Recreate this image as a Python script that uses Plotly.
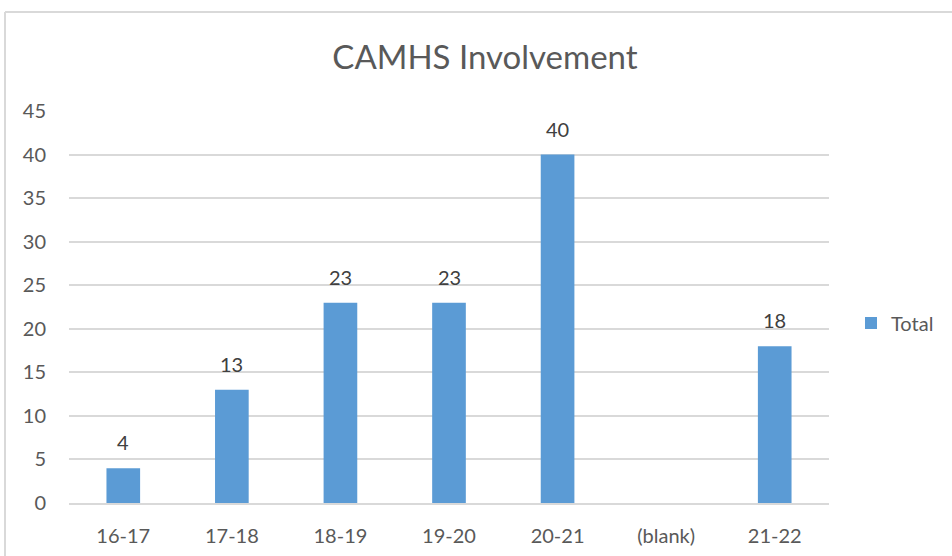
import plotly.graph_objects as go

categories = ["16-17", "17-18", "18-19", "19-20", "20-21", "(blank)", "21-22"]
values = [4, 13, 23, 23, 40, None, 18]
labels = ["4", "13", "23", "23", "40", "", "18"]
y_ticks = [0, 5, 10, 15, 20, 25, 30, 35, 40, 45]

FONT = "Lato, 'Open Sans', 'Liberation Sans', sans-serif"
TXT = "#595959"
GRID = "#D9D9D9"

fig = go.Figure()
fig.add_trace(go.Bar(
    x=categories, y=values, name="Total",
    marker=dict(color="#5B9BD5", line=dict(width=0)),
    width=0.31,
))

# data labels above bars
for c, v, t in zip(categories, values, labels):
    if v is None:
        continue
    fig.add_annotation(x=c, y=v, text=t, showarrow=False, yanchor="bottom",
                       yshift=12, font=dict(family=FONT, size=20, color="#404040"))

W, H = 952, 556
L, R, T, B = 69, 829, 111, 503
fig.update_layout(
    width=W, height=H,
    margin=dict(l=L, r=W - R, t=T, b=H - B, autoexpand=False),
    paper_bgcolor="white", plot_bgcolor="white",
    showlegend=True,
    title=dict(text="CAMHS Involvement", x=485 / W, xanchor="center",
               y=1 - 57 / H, yanchor="middle",
               font=dict(family=FONT, size=33, color=TXT)),
    legend=dict(x=(851 - L) / (R - L), xanchor="left", y=(B - 323) / (B - T), yanchor="middle",
                font=dict(family=FONT, size=20, color=TXT), bgcolor="rgba(0,0,0,0)",
                itemwidth=30),
    font=dict(family=FONT, color=TXT),
    yaxis=dict(range=[0, 45], tickvals=y_ticks, showgrid=True, gridcolor=GRID, gridwidth=1.5,
               zeroline=False, showline=False, tickfont=dict(family=FONT, size=20, color=TXT),
               ticklabelstandoff=22, fixedrange=True),
    xaxis=dict(showline=True, linecolor=GRID, linewidth=1.5, showgrid=False,
               tickfont=dict(family=FONT, size=20, color=TXT), ticklabelstandoff=14,
               fixedrange=True),
)

# chart-area border (clipped at right/bottom in the reference)
fig.add_shape(type="line", xref="paper", yref="paper",
              x0=(5 - L) / (R - L), x1=(W + 5 - L) / (R - L),
              y0=1 + (T - 12) / (B - T), y1=1 + (T - 12) / (B - T),
              line=dict(color=GRID, width=2), layer="below")
fig.add_shape(type="line", xref="paper", yref="paper",
              x0=(5 - L) / (R - L), x1=(5 - L) / (R - L),
              y0=1 + (T - 12) / (B - T), y1=-(H + 5 - B) / (B - T),
              line=dict(color=GRID, width=2), layer="below")

fig.write_html("out.html", config={"displayModeBar": False},
               post_script="document.body.style.margin='0';document.body.style.overflow='hidden';")
